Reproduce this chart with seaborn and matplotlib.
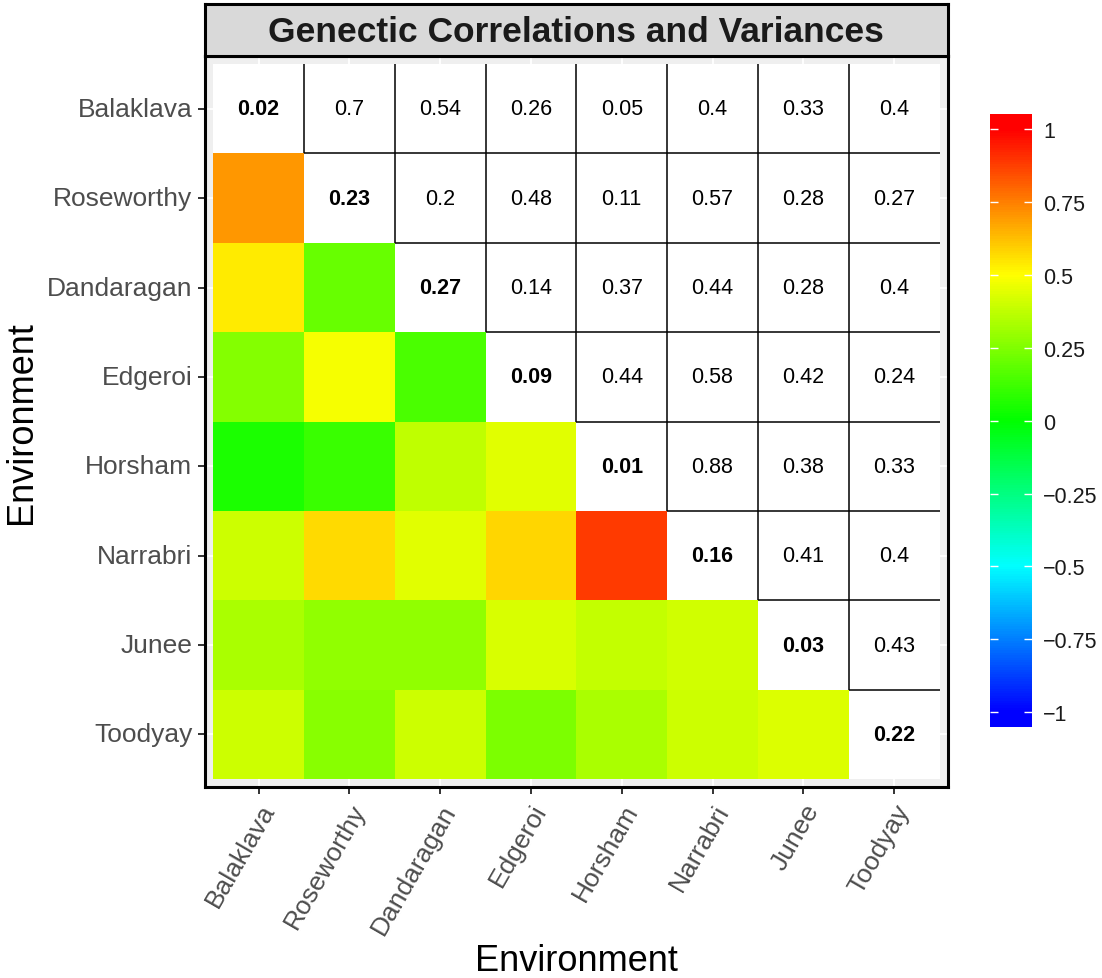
import numpy as np
import pandas as pd
import seaborn as sns
import matplotlib.pyplot as plt
from matplotlib.colors import LinearSegmentedColormap, ListedColormap

# Data
envs = ["Balaklava", "Roseworthy", "Dandaragan", "Edgeroi",
        "Horsham", "Narrabri", "Junee", "Toodyay"]
variances = [0.02, 0.23, 0.27, 0.09, 0.01, 0.16, 0.03, 0.22]
corr_upper = [
    [0.7, 0.54, 0.26, 0.05, 0.4, 0.33, 0.4],
    [0.2, 0.48, 0.11, 0.57, 0.28, 0.27],
    [0.14, 0.37, 0.44, 0.28, 0.4],
    [0.44, 0.58, 0.42, 0.24],
    [0.88, 0.38, 0.33],
    [0.41, 0.4],
    [0.43],
]
cbar_ticks = [-1, -0.75, -0.5, -0.25, 0, 0.25, 0.5, 0.75, 1]

n = len(envs)
mat = np.diag(variances).astype(float)
for i, row in enumerate(corr_upper):
    for k, v in enumerate(row):
        j = i + 1 + k
        mat[i, j] = v
        mat[j, i] = v
df = pd.DataFrame(mat, index=envs, columns=envs)

lower = np.tril(np.ones((n, n), bool), -1)
upper = np.triu(np.ones((n, n), bool), 1)
diag = np.eye(n, dtype=bool)

# rainbow scale blue -> cyan -> green -> yellow -> red, bar runs a bit past +-1
lim = 1.05
nodes = [(-lim, "blue"), (-1, "blue"), (-0.5, "cyan"), (0, "#00FF00"),
         (0.5, "yellow"), (1, "red"), (lim, "red")]
cmap = LinearSegmentedColormap.from_list(
    "rb", [((v + lim) / (2 * lim), c) for v, c in nodes])

plt.rcParams['font.family'] = ['Liberation Sans', 'DejaVu Sans']
fig = plt.figure(figsize=(11.02, 9.79), dpi=100)
ax = fig.add_axes([0.186, 0.195, 0.674, 0.7467])
cax = fig.add_axes([0.898, 0.2564, 0.0385, 0.626])

sns.heatmap(df, mask=~lower, cmap=cmap, vmin=-lim, vmax=lim,
            ax=ax, cbar_ax=cax)
sns.heatmap(df, mask=~upper, cmap=ListedColormap(["white"]), cbar=False,
            annot=True, fmt="g", annot_kws=dict(size=15.5, color="black"), ax=ax)
sns.heatmap(df, mask=~diag, cmap=ListedColormap(["white"]), cbar=False,
            annot=True, fmt="g",
            annot_kws=dict(size=15.5, color="black", fontweight="bold"), ax=ax)

# black step borders on the upper triangle
for i in range(n):
    for j in range(i + 1, n):
        ax.vlines(j, i, i + 1, color="black", lw=1.1, zorder=3)
        ax.hlines(i + 1, j, j + 1, color="black", lw=1.1, zorder=3)

pad = 0.09
ax.set_xlim(-pad, n + pad)
ax.set_ylim(n + pad, -pad)
ax.set_facecolor("#EFEFEF")
ax.grid(True, color="white", lw=1.3)
ax.set_axisbelow(True)
for s in ax.spines.values():
    s.set_visible(True)
    s.set_color("black")
    s.set_linewidth(2.2)

ax.set_xticks(np.arange(n) + 0.5)
ax.set_yticks(np.arange(n) + 0.5)
ax.set_xticklabels(envs, rotation=60, ha="right", va="top",
                   rotation_mode="anchor", fontsize=19, color="#4D4D4D")
ax.set_yticklabels(envs, rotation=0, fontsize=19, color="#4D4D4D")
ax.tick_params(length=5, width=1.4, color="#333333", pad=4)
ax.set_xlabel("Environment", fontsize=26, labelpad=4)
ax.set_ylabel("Environment", fontsize=26, labelpad=6)

# colorbar
cbar = ax.collections[0].colorbar
cbar.outline.set_visible(False)
cbar.set_ticks(cbar_ticks)
cbar.set_ticklabels([f"{t:g}".replace("-", "\u2212") for t in cbar_ticks])
cax.tick_params(labelsize=15.5, length=6, width=1, color="white",
                direction="in", left=True, right=True, pad=8,
                labelcolor="#1A1A1A")

# title strip
sax = fig.add_axes([0.186, 0.9418, 0.674, 0.053])
sax.set_facecolor("#D9D9D9")
sax.set_xticks([])
sax.set_yticks([])
for s in sax.spines.values():
    s.set_color("black")
    s.set_linewidth(2.2)
sax.text(0.5, 0.47, "Genectic Correlations and Variances", ha="center",
         va="center", fontsize=25.5, fontweight="bold", color="#1A1A1A",
         transform=sax.transAxes)

fig.savefig("out.png", dpi=100)
